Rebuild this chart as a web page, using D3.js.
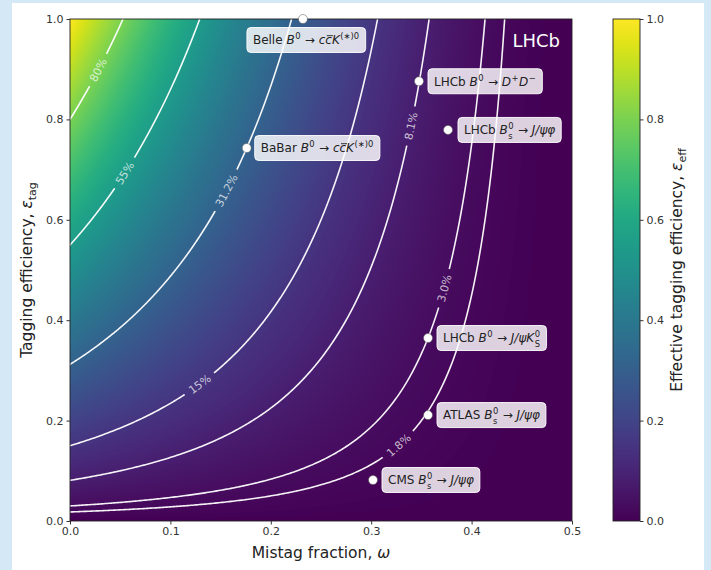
<!DOCTYPE html>
<html lang="en">
<head>
<meta charset="utf-8">
<title>Tagging power</title>
<script src="https://cdn.jsdelivr.net/npm/d3@7"></script>
<style>
  html, body { margin: 0; padding: 0; background: #d5e8f6; }
  svg { display: block; }
  text { font-family: 'DejaVu Sans', sans-serif; white-space: pre; }
</style>
</head>
<body>
<svg id="chart" width="711" height="570"></svg>
<script>
// axis ticks
const xTicks = [0, 0.1, 0.2, 0.3, 0.4, 0.5]
const yTicks = [0, 0.2, 0.4, 0.6, 0.8, 1.0]
const cbarTicks = [0, 0.2, 0.4, 0.6, 0.8, 1.0]

// iso-lines of effective tagging efficiency and where their labels sit (in omega)
const levels = [0.018, 0.03, 0.081, 0.15, 0.312, 0.55, 0.8]
const levelLabels = ['1.8%', '3.0%', '8.1%', '15%', '31.2%', '55%', '80%']
const levelLabelOmega = [0.328, 0.373, 0.3395, 0.129, 0.156, 0.055, 0.028]

// experiments: mistag fraction and tagging efficiency
const expOmega = [0.232, 0.176, 0.3476, 0.3765, 0.3566, 0.3566, 0.3018]
const expEps = [1.0, 0.743, 0.876, 0.779, 0.3645, 0.211, 0.0817]
const expLabels = [
  [['Belle ', 'r'], ['B', 'i'], ['0', 'sup'], [' \u2192 ', 'r'], ['c', 'i'], ['c', 'io'], ['K', 'i'], ['(\u2217)0', 'sup']],
  [['BaBar ', 'r'], ['B', 'i'], ['0', 'sup'], [' \u2192 ', 'r'], ['c', 'i'], ['c', 'io'], ['K', 'i'], ['(\u2217)0', 'sup']],
  [['LHCb ', 'r'], ['B', 'i'], ['0', 'sup'], [' \u2192 ', 'r'], ['D', 'i'], ['+', 'sup'], ['D', 'i'], ['\u2212', 'sup']],
  [['LHCb ', 'r'], ['B', 'i'], ['0', 'ss', 's'], [' \u2192 ', 'r'], ['J/\u03c8\u03c6', 'i']],
  [['LHCb ', 'r'], ['B', 'i'], ['0', 'sup'], [' \u2192 ', 'r'], ['J/\u03c8K', 'i'], ['0', 'ss', 'S']],
  [['ATLAS ', 'r'], ['B', 'i'], ['0', 'ss', 's'], [' \u2192 ', 'r'], ['J/\u03c8\u03c6', 'i']],
  [['CMS ', 'r'], ['B', 'i'], ['0', 'ss', 's'], [' \u2192 ', 'r'], ['J/\u03c8\u03c6', 'i']]
]
// box placement relative to the marker: [left edge offset, centre y offset]
const boxOffset = [[-56, 21], [8, 0], [9, 0], [10, 0], [9, 0], [9, 0], [9, 0]]

const plot = { left: 70, top: 19, width: 502, height: 502 }
const cbar = { left: 613, width: 27 }

const svg = d3.select('#chart')

svg.append('rect')
    .attr('x', 12).attr('y', 3)
    .attr('width', 692).attr('height', 567)
    .attr('fill', '#fff')

const x = d3.scaleLinear().domain([0, 0.5]).range([plot.left, plot.left + plot.width])
const y = d3.scaleLinear().domain([0, 1]).range([plot.top + plot.height, plot.top])
const color = d3.scaleSequential(d3.interpolateViridis).domain([0, 1])

function tagPower(w, e) { return e * (1 - 2 * w) * (1 - 2 * w) }

// heatmap drawn on a canvas, then put into the svg as an image
const canvas = document.createElement('canvas')
canvas.width = plot.width
canvas.height = plot.height
const ctx = canvas.getContext('2d')
const img = ctx.createImageData(plot.width, plot.height)
const lut = d3.range(1024).map(i => d3.rgb(color(i / 1023)))
for (let py = 0; py < plot.height; py++) {
  for (let px = 0; px < plot.width; px++) {
    const v = tagPower(x.invert(plot.left + px + 0.5), y.invert(plot.top + py + 0.5))
    const c = lut[Math.max(0, Math.min(1023, Math.round(v * 1023)))]
    const k = (py * plot.width + px) * 4
    img.data[k] = c.r; img.data[k + 1] = c.g; img.data[k + 2] = c.b; img.data[k + 3] = 255
  }
}
ctx.putImageData(img, 0, 0)

const defs = svg.append('defs')
defs.append('clipPath').attr('id', 'plotClip')
  .append('rect')
    .attr('x', plot.left).attr('y', plot.top)
    .attr('width', plot.width).attr('height', plot.height)

svg.append('image')
    .attr('x', plot.left).attr('y', plot.top)
    .attr('width', plot.width).attr('height', plot.height)
    .attr('preserveAspectRatio', 'none')
    .attr('href', canvas.toDataURL())

// contours on a grid that runs a little past the plot so the outer edges get clipped away
const n = 300, m = 300
const w0 = -0.01, w1 = 0.51, e0 = -0.02, e1 = 1.02
const ws = (w1 - w0) / (n - 1), es = (e1 - e0) / (m - 1)
const grid = new Float64Array(n * m)
for (let j = 0; j < m; j++) {
  for (let i = 0; i < n; i++) grid[j * n + i] = tagPower(w0 + i * ws, e0 + j * es)
}
const contours = d3.contours().size([n, m]).thresholds(levels)(grid)
const gx = c => w0 + (c - 0.5) * ws
const gy = c => e0 + (c - 0.5) * es
const path = d3.geoPath(d3.geoTransform({
  point: function(px, py) { this.stream.point(x(gx(px)), y(gy(py))) }
}))

// find label spot + angle along each contour
const labelSpots = contours.map((c, k) => {
  const target = levelLabelOmega[k]
  let best = null
  c.coordinates.forEach(poly => poly.forEach(ring => {
    ring.forEach((p, idx) => {
      const w = gx(p[0]), e = gy(p[1])
      if (w < 0 || w > 0.5 || e < 0.01 || e > 0.99) return
      const d = Math.abs(w - target)
      if (!best || d < best.d) best = { d, ring, idx }
    })
  }))
  const r = best.ring, L = r.length
  const a = r[(best.idx - 3 + L) % L], b = r[(best.idx + 3) % L], p = r[best.idx]
  let ang = Math.atan2(y(gy(b[1])) - y(gy(a[1])), x(gx(b[0])) - x(gx(a[0]))) * 180 / Math.PI
  if (ang > 90) ang -= 180
  if (ang < -90) ang += 180
  return { cx: x(gx(p[0])), cy: y(gy(p[1])), ang }
})

const mask = defs.append('mask').attr('id', 'gapMask')
    .attr('maskUnits', 'userSpaceOnUse')
    .attr('x', 0).attr('y', 0).attr('width', 711).attr('height', 570)
mask.append('rect').attr('width', 711).attr('height', 570).attr('fill', '#fff')

svg.append('g')
    .attr('clip-path', 'url(#plotClip)')
  .append('g')
    .attr('mask', 'url(#gapMask)')
  .selectAll('path')
  .data(contours)
  .enter().append('path')
    .attr('d', path)
    .attr('fill', 'none')
    .attr('stroke', '#fff')
    .attr('stroke-width', 1.6)
    .attr('stroke-opacity', 0.95)

const clabels = svg.append('g').selectAll('text')
  .data(labelSpots)
  .enter().append('text')
    .attr('transform', d => 'translate(' + d.cx + ',' + d.cy + ') rotate(' + d.ang + ')')
    .attr('text-anchor', 'middle')
    .attr('dy', '0.36em')
    .attr('font-size', 11)
    .attr('fill', '#fff')
    .attr('fill-opacity', 0.72)
    .text((d, k) => levelLabels[k])

clabels.each(function(d) {
  const w = this.getComputedTextLength()
  mask.append('rect')
      .attr('transform', 'translate(' + d.cx + ',' + d.cy + ') rotate(' + d.ang + ')')
      .attr('x', -w / 2 - 6).attr('y', -6)
      .attr('width', w + 12).attr('height', 12)
      .attr('fill', '#000')
})

// frame
svg.append('rect')
    .attr('x', plot.left).attr('y', plot.top)
    .attr('width', plot.width).attr('height', plot.height)
    .attr('fill', 'none').attr('stroke', '#222').attr('stroke-width', 0.9)

// axes
const fmt = d3.format('.1f')
function styleAxis(g) {
  g.select('.domain').remove()
  g.selectAll('.tick line').attr('stroke', '#333')
  g.selectAll('.tick text').attr('fill', '#333').attr('font-size', 11)
      .attr('font-family', "'DejaVu Sans', sans-serif")
}
svg.append('g')
    .attr('transform', 'translate(0,' + (plot.top + plot.height) + ')')
    .call(d3.axisBottom(x).tickValues(xTicks).tickFormat(fmt).tickSize(3.5).tickPadding(3))
    .call(styleAxis)
svg.append('g')
    .attr('transform', 'translate(' + plot.left + ',0)')
    .call(d3.axisLeft(y).tickValues(yTicks).tickFormat(fmt).tickSize(3.5).tickPadding(3))
    .call(styleAxis)

svg.append('text')
    .attr('x', plot.left + plot.width / 2).attr('y', 558)
    .attr('text-anchor', 'middle').attr('font-size', 15.5).attr('fill', '#222')
    .call(t => {
      t.append('tspan').text('Mistag fraction, ')
      t.append('tspan').attr('font-style', 'italic').text('\u03c9')
    })

svg.append('text')
    .attr('transform', 'translate(32,' + (plot.top + plot.height / 2) + ') rotate(-90)')
    .attr('text-anchor', 'middle').attr('font-size', 15.5).attr('fill', '#222')
    .call(t => {
      t.append('tspan').text('Tagging efficiency, ')
      t.append('tspan').attr('font-style', 'italic').text('\u03b5')
      t.append('tspan').attr('font-size', 11).attr('dy', 4).text('tag')
    })

svg.append('text')
    .attr('x', 560).attr('y', 47)
    .attr('text-anchor', 'end').attr('font-size', 18).attr('fill', '#fff')
    .text('LHCb')

// experiment markers and boxed labels
const fs = 12
function put(g, t, cx, base, size, italic) {
  const el = g.append('text')
      .attr('x', cx).attr('y', base)
      .attr('font-size', size).attr('fill', '#222')
      .attr('font-style', italic ? 'italic' : 'normal')
      .text(t)
  return el.node().getComputedTextLength()
}
// stacked super/subscript kept inside one text element
function putStack(g, sup, sub, cx, base, size) {
  const el = g.append('text').attr('font-size', size).attr('fill', '#222')
  const a = el.append('tspan').attr('x', cx).attr('y', base - fs * 0.46).text(sup)
  const b = el.append('tspan').attr('x', cx).attr('y', base + fs * 0.38).text(sub)
  return Math.max(a.node().getComputedTextLength(), b.node().getComputedTextLength())
}
function drawRich(g, segs, x0, base) {
  let cx = x0
  segs.forEach(([t, kind, sub]) => {
    if (kind === 'r') cx += put(g, t, cx, base, fs, false)
    else if (kind === 'i') cx += put(g, t, cx, base, fs, true)
    else if (kind === 'sup') cx += put(g, t, cx + 0.5, base - fs * 0.42, fs * 0.7, false) + 1
    else if (kind === 'ss') cx += putStack(g, t, sub, cx + 0.5, base, fs * 0.7) + 1
    else if (kind === 'io') {
      const w = put(g, t, cx, base, fs, true)
      g.append('line')
          .attr('x1', cx + 1.5).attr('x2', cx + w + 1)
          .attr('y1', base - fs * 0.72).attr('y2', base - fs * 0.72)
          .attr('stroke', '#222').attr('stroke-width', 0.9)
      cx += w
    }
  })
  return cx - x0
}

expLabels.forEach((segs, k) => {
  const px = x(expOmega[k]), py = y(expEps[k])
  const left = px + boxOffset[k][0], cy = py + boxOffset[k][1]
  const g = svg.append('g')
  const box = g.append('rect')
  const tg = g.append('g')
  const pad = 6
  const w = drawRich(tg, segs, left + pad, cy + 4.3)
  box.attr('x', left).attr('y', cy - 12.5)
      .attr('width', w + 2 * pad).attr('height', 25)
      .attr('rx', 4)
      .attr('fill', '#fff').attr('fill-opacity', 0.82)
      .attr('stroke', '#fff').attr('stroke-opacity', 0.9)
  svg.append('circle')
      .attr('cx', px).attr('cy', py).attr('r', 4.5)
      .attr('fill', '#fff').attr('stroke', '#555').attr('stroke-width', 0.5)
})

// colorbar
const cy = d3.scaleLinear().domain([0, 1]).range([plot.top + plot.height, plot.top])
const grad = defs.append('linearGradient').attr('id', 'cbarGrad')
    .attr('x1', 0).attr('y1', 1).attr('x2', 0).attr('y2', 0)
grad.selectAll('stop')
  .data(d3.range(0, 1.0001, 0.05))
  .enter().append('stop')
    .attr('offset', d => d)
    .attr('stop-color', d => color(d))
svg.append('rect')
    .attr('x', cbar.left).attr('y', plot.top)
    .attr('width', cbar.width).attr('height', plot.height)
    .attr('fill', 'url(#cbarGrad)')
    .attr('stroke', '#222').attr('stroke-width', 0.9)
svg.append('g')
    .attr('transform', 'translate(' + (cbar.left + cbar.width) + ',0)')
    .call(d3.axisRight(cy).tickValues(cbarTicks).tickFormat(fmt).tickSize(3.5).tickPadding(3))
    .call(styleAxis)

svg.append('text')
    .attr('transform', 'translate(682,' + (plot.top + plot.height / 2) + ') rotate(-90)')
    .attr('text-anchor', 'middle').attr('font-size', 15.5).attr('fill', '#222')
    .call(t => {
      t.append('tspan').text('Effective tagging efficiency, ')
      t.append('tspan').attr('font-style', 'italic').text('\u03b5')
      t.append('tspan').attr('font-size', 11).attr('dy', 4).text('eff')
    })
</script>
</body>
</html>
